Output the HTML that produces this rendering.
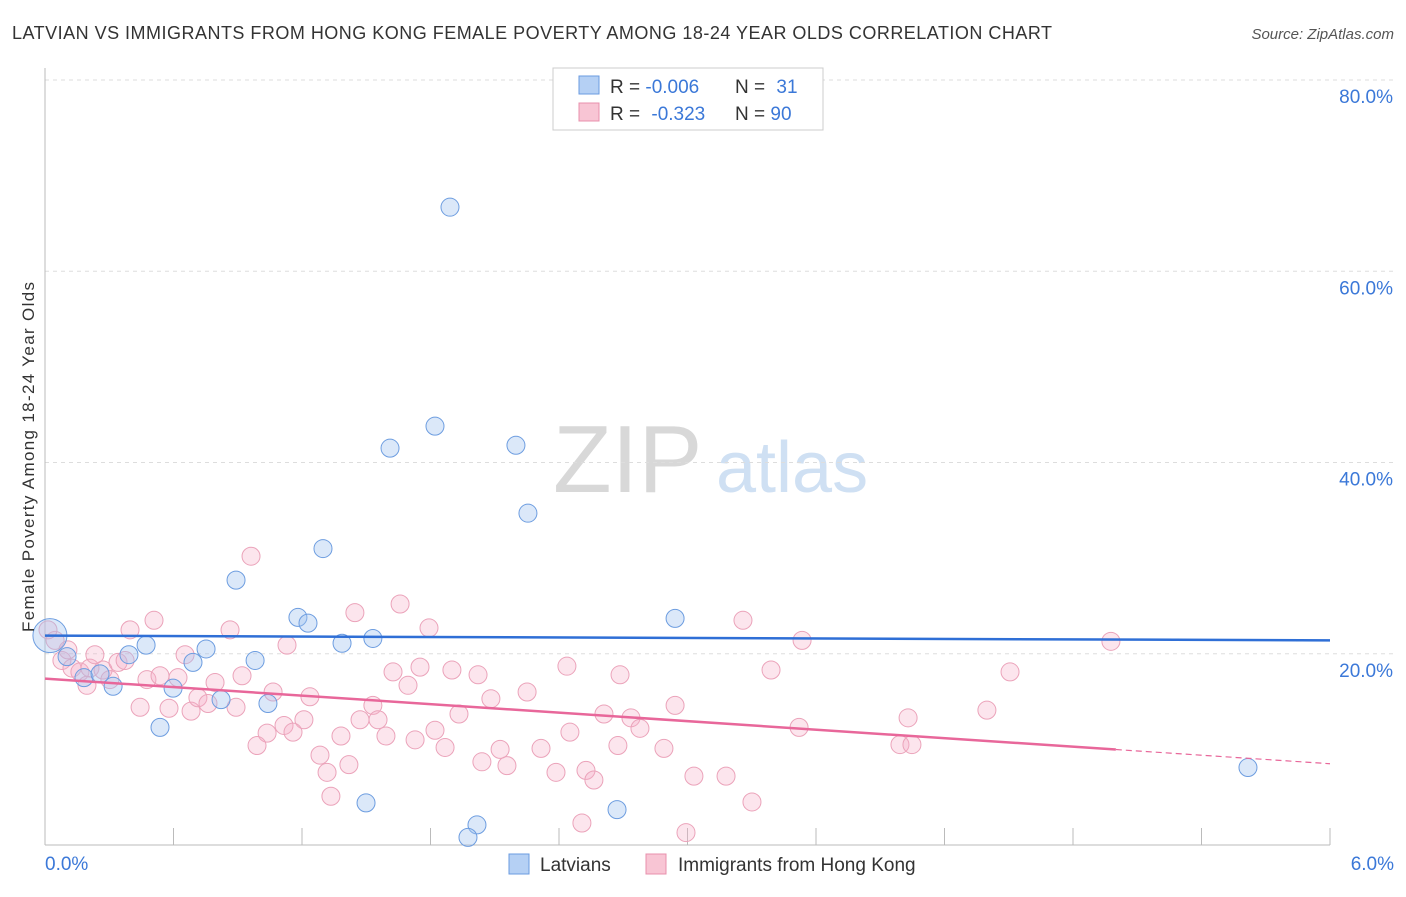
<!DOCTYPE html>
<html><head><meta charset="utf-8"><style>
body{margin:0;background:#fff;font-family:"Liberation Sans",sans-serif;}
svg text{font-family:"Liberation Sans",sans-serif;}
</style></head><body>
<svg id="chart" width="1406" height="892" viewBox="0 0 1406 892">
<text x="12" y="39" font-size="18" fill="#333" textLength="1040" lengthAdjust="spacing">LATVIAN VS IMMIGRANTS FROM HONG KONG FEMALE POVERTY AMONG 18-24 YEAR OLDS CORRELATION CHART</text>
<text x="1394" y="39" font-size="15" fill="#555" text-anchor="end" font-style="italic">Source: ZipAtlas.com</text>
<g>
<text x="553" y="492" font-size="96" fill="#d8d8d8" font-family="Liberation Serif, serif">ZIP</text>
<text x="716" y="492" font-size="72" fill="#cfe0f3">atlas</text>
</g>
<g id="grid"></g>
<g id="axes"></g>
<g id="pts"></g>
<g id="trend"></g>
<text transform="translate(34,457) rotate(-90)" font-size="17" fill="#333" text-anchor="middle" textLength="350" lengthAdjust="spacing">Female Poverty Among 18-24 Year Olds</text>
<g>
<rect x="553" y="68" width="270" height="62" fill="#fff" stroke="#ccc"/>
<rect x="579" y="76" width="20" height="18" fill="#b5d0f4" stroke="#6a9be0"/>
<text x="610" y="93" font-size="19" fill="#333">R = <tspan fill="#3b78d8">-0.006</tspan></text>
<text x="735" y="93" font-size="19" fill="#333">N = <tspan fill="#3b78d8" dx="6">31</tspan></text>
<rect x="579" y="103" width="20" height="18" fill="#f8c5d4" stroke="#e890ac"/>
<text x="610" y="120" font-size="19" fill="#333">R = <tspan fill="#3b78d8" dx="6">-0.323</tspan></text>
<text x="735" y="120" font-size="19" fill="#333">N = <tspan fill="#3b78d8">90</tspan></text>
</g>
<g>
<rect x="509" y="854" width="20" height="20" fill="#b5d0f4" stroke="#6a9be0"/>
<text x="540" y="871" font-size="19" fill="#333">Latvians</text>
<rect x="646" y="854" width="20" height="20" fill="#f8c5d4" stroke="#e890ac"/>
<text x="678" y="871" font-size="19" fill="#333">Immigrants from Hong Kong</text>
</g>
</svg>
<script>
const xTicks=["0.0%","6.0%"];
const yTickVals=[20,40,60,80];
const yTickLabels=["20.0%","40.0%","60.0%","80.0%"];
const latX=[1.891,1.821,1.611,2.199,2.255,1.298,0.892,1.181,1.228,2.942,1.531,1.387,0.472,0.752,0.392,0.691,0.981,0.103,0.182,0.257,0.318,0.598,0.822,1.041,0.537,1.499,2.671,2.017,1.975,5.617,0.023];
const latY=[66.7,43.8,41.5,41.8,34.7,31.0,27.7,23.8,23.2,23.7,21.6,21.1,20.9,20.5,19.9,19.1,19.3,19.7,17.5,17.9,16.6,16.4,15.2,14.8,12.3,4.4,3.7,2.1,0.8,8.1,21.9];
const hkX=[0.962,0.509,1.658,1.447,0.397,0.864,1.130,1.793,3.259,3.535,4.977,0.047,0.014,0.079,0.126,0.163,0.210,0.271,0.341,0.374,0.196,0.303,0.476,0.537,0.621,0.654,0.794,0.920,1.065,1.237,0.444,0.579,0.682,0.714,0.761,0.892,1.531,1.625,1.695,1.751,1.900,2.022,2.251,2.082,2.437,2.685,3.390,4.506,1.933,1.471,1.555,1.209,1.116,1.037,1.158,1.821,1.592,1.382,2.610,2.736,2.778,2.942,2.451,0.990,1.728,1.868,2.125,2.316,2.675,2.890,3.521,4.030,4.398,3.992,4.048,1.284,2.040,2.157,2.386,2.526,1.317,1.419,3.030,3.180,2.563,1.335,3.301,2.507,2.993,0.107,0.233];
const hkY=[30.2,23.5,25.2,24.3,22.5,22.5,20.9,22.7,23.5,21.4,21.3,21.4,22.5,19.3,18.5,18.1,18.5,18.3,19.1,19.3,16.7,17.3,17.3,17.7,17.5,19.9,17.0,17.7,16.0,15.5,14.4,14.3,14.0,15.4,14.8,14.4,14.6,18.1,16.7,18.6,18.3,17.8,16.0,15.3,18.7,17.8,18.3,18.1,13.7,13.1,13.1,13.1,12.5,11.7,11.8,12.0,11.4,11.4,13.7,13.3,12.2,14.6,11.8,10.4,11.0,10.2,10.0,10.1,10.4,10.1,12.3,13.3,14.1,10.5,10.5,9.4,8.7,8.3,7.6,7.8,7.6,8.4,7.2,7.2,6.8,5.1,4.5,2.3,1.3,20.4,19.9];
const latTrend=[21.9,21.4];
const hkTrend=[17.4,8.5];
const hkSolidEnd=5.0;

const NS="http://www.w3.org/2000/svg";
const X=v=>45+v*1285/6;
const Y=v=>845-v*765/80;
function mk(tag,attrs,parent){const e=document.createElementNS(NS,tag);for(const k in attrs)e.setAttribute(k,attrs[k]);parent.appendChild(e);return e;}
const grid=document.getElementById('grid'),axes=document.getElementById('axes'),pts=document.getElementById('pts'),trend=document.getElementById('trend');
yTickVals.forEach((v,i)=>{
 const l=mk('line',{x1:45,x2:1395,y1:Y(v),y2:Y(v),stroke:'#ddd','stroke-dasharray':'4,4'},grid);
 
 
 const t=mk('text',{x:1393,y:Y(v)+23,'font-size':19,fill:'#3b78d8','text-anchor':'end'},axes);
 t.textContent=yTickLabels[i];
 
 
});
const ax=mk('line',{x1:45,x2:1330,y1:845,y2:845,stroke:'#bbb'},axes);


const ay=mk('line',{x1:45,x2:45,y1:68,y2:845,stroke:'#bbb'},axes);


for(let i=0;i<=10;i++){const tk=mk('line',{x1:X(i*0.6),x2:X(i*0.6),y1:828,y2:845,stroke:'#bbb'},axes);
 
 }
const t0=mk('text',{x:45,y:870,'font-size':19,fill:'#3b78d8'},axes);t0.textContent=xTicks[0];


const t1=mk('text',{x:1394,y:870,'font-size':19,fill:'#3b78d8','text-anchor':'end'},axes);t1.textContent=xTicks[1];



hkX.forEach((x,i)=>{const c=mk('circle',{cx:X(x),cy:Y(hkY[i]),r:9,fill:'rgba(245,175,198,0.32)',stroke:'#eba3ba','stroke-width':1},pts);
 
 });
latX.forEach((x,i)=>{const big=i===latX.length-1;const c=mk('circle',{cx:X(x),cy:Y(latY[i]),r:big?17:9,fill:'rgba(160,195,240,0.38)',stroke:'#6d9de0','stroke-width':1},pts);
 
 });

const lt=mk('line',{x1:X(0),y1:Y(latTrend[0]),x2:X(6),y2:Y(latTrend[1]),stroke:'#2f6fd6','stroke-width':2.5},trend);


const hy=x=>hkTrend[0]+(hkTrend[1]-hkTrend[0])*x/6;
const ht=mk('line',{x1:X(0),y1:Y(hy(0)),x2:X(hkSolidEnd),y2:Y(hy(hkSolidEnd)),stroke:'#e8679a','stroke-width':2.5},trend);


const hd=mk('line',{x1:X(hkSolidEnd),y1:Y(hy(hkSolidEnd)),x2:X(6),y2:Y(hy(6)),stroke:'#e8679a','stroke-width':1.2,'stroke-dasharray':'6,4'},trend);


</script>
</body></html>
